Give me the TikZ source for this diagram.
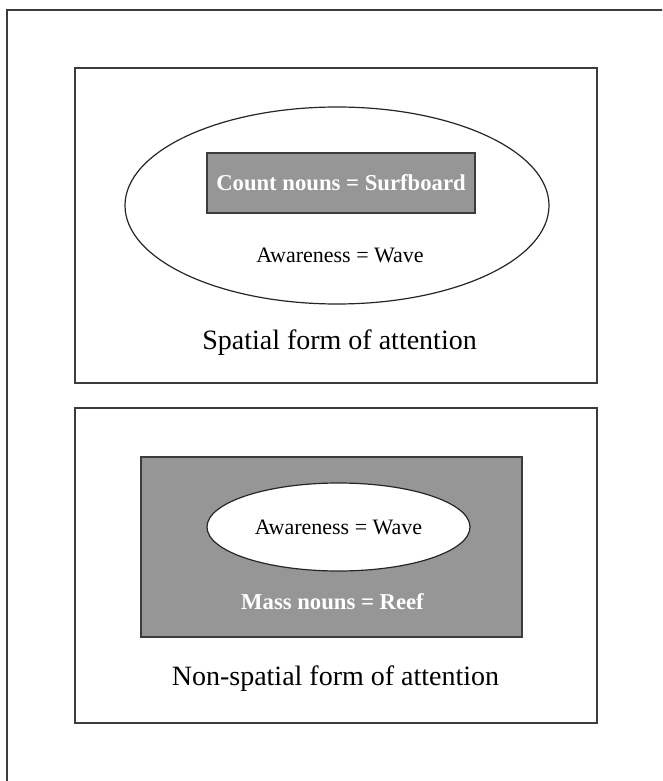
\documentclass[tikz,border=0pt]{standalone}
\usepackage{fontspec}
\setmainfont{Liberation Serif}
\usetikzlibrary{shapes.geometric}
\definecolor{linegray}{RGB}{60,60,60}
\definecolor{fillgray}{RGB}{150,150,150}
\tikzset{
  frame/.style={draw=linegray, line width=1.4pt, fill=white},
  panel/.style={draw=linegray, line width=1.2pt, inner sep=0pt},
  oval/.style={ellipse, draw=black!85, line width=1.2pt, inner sep=0pt},
  graybox/.style={draw=linegray, line width=1.2pt, fill=fillgray, inner sep=0pt},
  lbl/.style={inner sep=0pt, font=\fontsize{22}{26}\selectfont},
  boldlbl/.style={inner sep=0pt, text=white, font=\fontsize{22.7}{26}\selectfont\bfseries},
  caption/.style={inner sep=0pt, font=\fontsize{28}{32}\selectfont},
}
\begin{document}
\begin{tikzpicture}[x=1pt,y=-1pt]
\useasboundingbox (0,0) rectangle (662,781);
\fill[white] (0,0) rectangle (662,781);
% outer frame (right and bottom edges lie outside the picture)
\coordinate (otl) at (7,10);
\coordinate (obr) at (680,800);
\begin{scope}
\clip (0,0) rectangle (662,781);
\draw[frame] (otl) rectangle (obr);
\end{scope}
% top panel
\node[panel, minimum width=522pt, minimum height=315pt] (p1) at (336,225.5) {};
\node[oval, minimum width=424pt, minimum height=197pt] (e1) at (337,205.5) {};
\node[graybox, minimum width=268pt, minimum height=60pt] (r1) at (341,183) {};
\node[boldlbl] (t1) at (r1.center) {Count nouns = Surfboard};
\node[lbl] (t2) at (340,255) {Awareness = Wave};
\node[caption] (c1) at (339.5,343) {Spatial form of attention};
% bottom panel
\node[panel, minimum width=522pt, minimum height=315pt] (p2) at (336,565.5) {};
\node[graybox, minimum width=381pt, minimum height=180pt] (r2) at (331.5,547) {};
\node[oval, fill=white, minimum width=263pt, minimum height=88pt] (e2) at (338.5,527) {};
\node[lbl] (t3) at (e2.center) {Awareness = Wave};
\node[boldlbl] (t4) at (332.5,602) {Mass nouns = Reef};
\node[caption] (c2) at (335.5,679) {Non-spatial form of attention};
\end{tikzpicture}
\end{document}
